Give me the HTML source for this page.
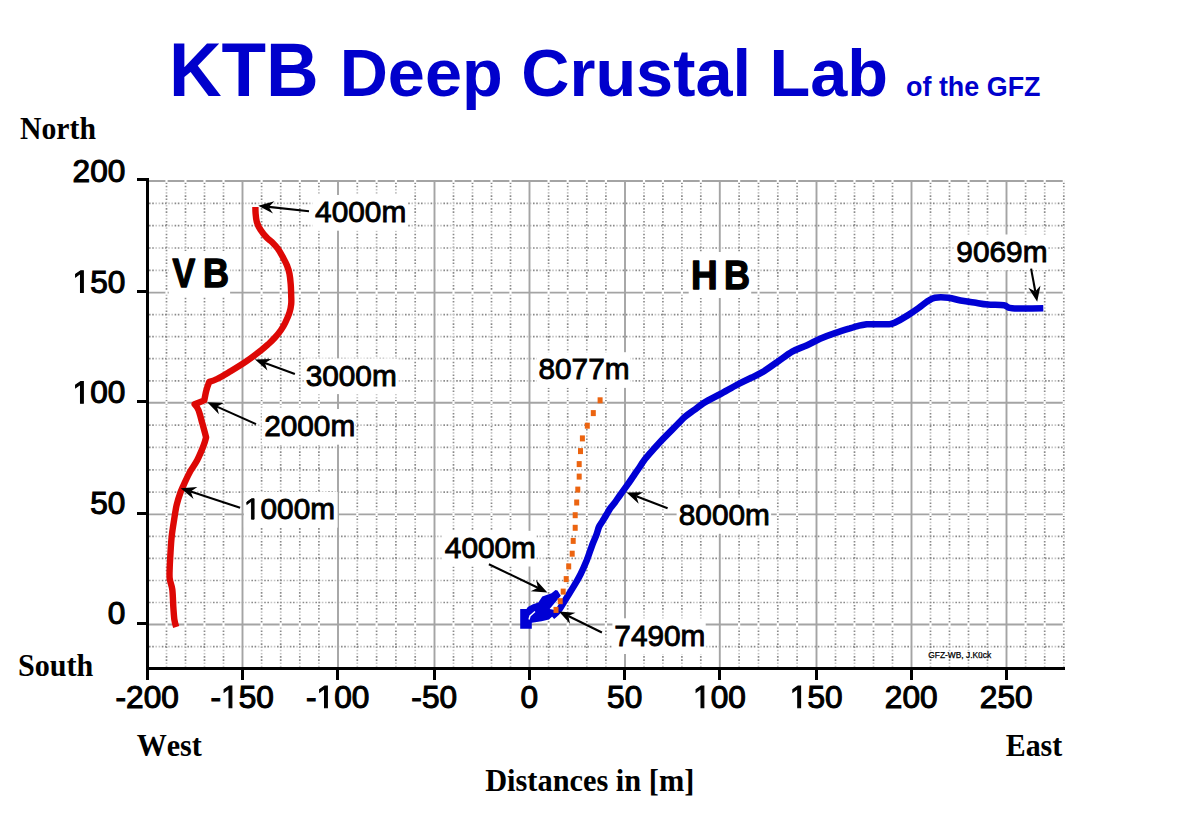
<!DOCTYPE html>
<html><head><meta charset="utf-8"><style>
html,body{margin:0;padding:0;background:#fff;width:1181px;height:834px;overflow:hidden}
svg{display:block}
text{font-kerning:none;font-variant-ligatures:none}
.dk{stroke:#8a8a8a;stroke-width:1.7;stroke-dasharray:1.6 1.6 1.6 8}
.lt{stroke:#c4c4c4;stroke-width:1.7;stroke-dasharray:1.6 1.6 1.6 8;stroke-dashoffset:-6.4}
.mj{stroke:#a4a4a4;stroke-width:1.9}
.lab{font-family:"Liberation Sans",sans-serif;font-size:29.8px;fill:#000;stroke:#000;stroke-width:0.9px}
.ax{font-family:"Liberation Sans",sans-serif;font-size:31.6px;fill:#000;stroke:#000;stroke-width:1.1px}
.ser{font-family:"Liberation Serif",serif;font-weight:bold;fill:#000}
.tt{font-family:"Liberation Sans",sans-serif;font-weight:bold;fill:#0000cc}
.bb{font-family:"Liberation Sans",sans-serif;font-weight:bold;fill:#000;stroke:#000;stroke-width:1.2px;stroke-linejoin:round}
.sm{font-family:"Liberation Sans",sans-serif;font-size:8.4px;fill:#000;stroke:#000;stroke-width:0.25px}
</style></head><body>
<svg width="1181" height="834" viewBox="0 0 1181 834">
<rect width="1181" height="834" fill="#fff"/>
<line x1="166.5" y1="182.5" x2="166.5" y2="667" class="dk"/>
<line x1="166.5" y1="182.5" x2="166.5" y2="667" class="lt"/>
<line x1="185.5" y1="182.5" x2="185.5" y2="667" class="dk"/>
<line x1="185.5" y1="182.5" x2="185.5" y2="667" class="lt"/>
<line x1="204.5" y1="182.5" x2="204.5" y2="667" class="dk"/>
<line x1="204.5" y1="182.5" x2="204.5" y2="667" class="lt"/>
<line x1="223.5" y1="182.5" x2="223.5" y2="667" class="dk"/>
<line x1="223.5" y1="182.5" x2="223.5" y2="667" class="lt"/>
<line x1="261.6" y1="182.5" x2="261.6" y2="667" class="dk"/>
<line x1="261.6" y1="182.5" x2="261.6" y2="667" class="lt"/>
<line x1="280.7" y1="182.5" x2="280.7" y2="667" class="dk"/>
<line x1="280.7" y1="182.5" x2="280.7" y2="667" class="lt"/>
<line x1="299.8" y1="182.5" x2="299.8" y2="667" class="dk"/>
<line x1="299.8" y1="182.5" x2="299.8" y2="667" class="lt"/>
<line x1="318.9" y1="182.5" x2="318.9" y2="667" class="dk"/>
<line x1="318.9" y1="182.5" x2="318.9" y2="667" class="lt"/>
<line x1="357.3" y1="182.5" x2="357.3" y2="667" class="dk"/>
<line x1="357.3" y1="182.5" x2="357.3" y2="667" class="lt"/>
<line x1="376.6" y1="182.5" x2="376.6" y2="667" class="dk"/>
<line x1="376.6" y1="182.5" x2="376.6" y2="667" class="lt"/>
<line x1="395.9" y1="182.5" x2="395.9" y2="667" class="dk"/>
<line x1="395.9" y1="182.5" x2="395.9" y2="667" class="lt"/>
<line x1="415.2" y1="182.5" x2="415.2" y2="667" class="dk"/>
<line x1="415.2" y1="182.5" x2="415.2" y2="667" class="lt"/>
<line x1="453.5" y1="182.5" x2="453.5" y2="667" class="dk"/>
<line x1="453.5" y1="182.5" x2="453.5" y2="667" class="lt"/>
<line x1="472.5" y1="182.5" x2="472.5" y2="667" class="dk"/>
<line x1="472.5" y1="182.5" x2="472.5" y2="667" class="lt"/>
<line x1="491.5" y1="182.5" x2="491.5" y2="667" class="dk"/>
<line x1="491.5" y1="182.5" x2="491.5" y2="667" class="lt"/>
<line x1="510.5" y1="182.5" x2="510.5" y2="667" class="dk"/>
<line x1="510.5" y1="182.5" x2="510.5" y2="667" class="lt"/>
<line x1="548.6" y1="182.5" x2="548.6" y2="667" class="dk"/>
<line x1="548.6" y1="182.5" x2="548.6" y2="667" class="lt"/>
<line x1="567.7" y1="182.5" x2="567.7" y2="667" class="dk"/>
<line x1="567.7" y1="182.5" x2="567.7" y2="667" class="lt"/>
<line x1="586.8" y1="182.5" x2="586.8" y2="667" class="dk"/>
<line x1="586.8" y1="182.5" x2="586.8" y2="667" class="lt"/>
<line x1="605.9" y1="182.5" x2="605.9" y2="667" class="dk"/>
<line x1="605.9" y1="182.5" x2="605.9" y2="667" class="lt"/>
<line x1="644.0" y1="182.5" x2="644.0" y2="667" class="dk"/>
<line x1="644.0" y1="182.5" x2="644.0" y2="667" class="lt"/>
<line x1="662.9" y1="182.5" x2="662.9" y2="667" class="dk"/>
<line x1="662.9" y1="182.5" x2="662.9" y2="667" class="lt"/>
<line x1="681.9" y1="182.5" x2="681.9" y2="667" class="dk"/>
<line x1="681.9" y1="182.5" x2="681.9" y2="667" class="lt"/>
<line x1="700.8" y1="182.5" x2="700.8" y2="667" class="dk"/>
<line x1="700.8" y1="182.5" x2="700.8" y2="667" class="lt"/>
<line x1="739.1" y1="182.5" x2="739.1" y2="667" class="dk"/>
<line x1="739.1" y1="182.5" x2="739.1" y2="667" class="lt"/>
<line x1="758.5" y1="182.5" x2="758.5" y2="667" class="dk"/>
<line x1="758.5" y1="182.5" x2="758.5" y2="667" class="lt"/>
<line x1="777.8" y1="182.5" x2="777.8" y2="667" class="dk"/>
<line x1="777.8" y1="182.5" x2="777.8" y2="667" class="lt"/>
<line x1="797.1" y1="182.5" x2="797.1" y2="667" class="dk"/>
<line x1="797.1" y1="182.5" x2="797.1" y2="667" class="lt"/>
<line x1="835.5" y1="182.5" x2="835.5" y2="667" class="dk"/>
<line x1="835.5" y1="182.5" x2="835.5" y2="667" class="lt"/>
<line x1="854.5" y1="182.5" x2="854.5" y2="667" class="dk"/>
<line x1="854.5" y1="182.5" x2="854.5" y2="667" class="lt"/>
<line x1="873.5" y1="182.5" x2="873.5" y2="667" class="dk"/>
<line x1="873.5" y1="182.5" x2="873.5" y2="667" class="lt"/>
<line x1="892.5" y1="182.5" x2="892.5" y2="667" class="dk"/>
<line x1="892.5" y1="182.5" x2="892.5" y2="667" class="lt"/>
<line x1="930.5" y1="182.5" x2="930.5" y2="667" class="dk"/>
<line x1="930.5" y1="182.5" x2="930.5" y2="667" class="lt"/>
<line x1="949.5" y1="182.5" x2="949.5" y2="667" class="dk"/>
<line x1="949.5" y1="182.5" x2="949.5" y2="667" class="lt"/>
<line x1="968.5" y1="182.5" x2="968.5" y2="667" class="dk"/>
<line x1="968.5" y1="182.5" x2="968.5" y2="667" class="lt"/>
<line x1="987.5" y1="182.5" x2="987.5" y2="667" class="dk"/>
<line x1="987.5" y1="182.5" x2="987.5" y2="667" class="lt"/>
<line x1="1025.6" y1="182.5" x2="1025.6" y2="667" class="dk"/>
<line x1="1025.6" y1="182.5" x2="1025.6" y2="667" class="lt"/>
<line x1="1044.7" y1="182.5" x2="1044.7" y2="667" class="dk"/>
<line x1="1044.7" y1="182.5" x2="1044.7" y2="667" class="lt"/>
<line x1="1063.8" y1="182.5" x2="1063.8" y2="667" class="dk"/>
<line x1="1063.8" y1="182.5" x2="1063.8" y2="667" class="lt"/>
<line x1="149" y1="646.7" x2="1065" y2="646.7" class="dk"/>
<line x1="149" y1="646.7" x2="1065" y2="646.7" class="lt"/>
<line x1="149" y1="602.5" x2="1065" y2="602.5" class="dk"/>
<line x1="149" y1="602.5" x2="1065" y2="602.5" class="lt"/>
<line x1="149" y1="580.5" x2="1065" y2="580.5" class="dk"/>
<line x1="149" y1="580.5" x2="1065" y2="580.5" class="lt"/>
<line x1="149" y1="558.4" x2="1065" y2="558.4" class="dk"/>
<line x1="149" y1="558.4" x2="1065" y2="558.4" class="lt"/>
<line x1="149" y1="536.4" x2="1065" y2="536.4" class="dk"/>
<line x1="149" y1="536.4" x2="1065" y2="536.4" class="lt"/>
<line x1="149" y1="492.1" x2="1065" y2="492.1" class="dk"/>
<line x1="149" y1="492.1" x2="1065" y2="492.1" class="lt"/>
<line x1="149" y1="469.8" x2="1065" y2="469.8" class="dk"/>
<line x1="149" y1="469.8" x2="1065" y2="469.8" class="lt"/>
<line x1="149" y1="447.4" x2="1065" y2="447.4" class="dk"/>
<line x1="149" y1="447.4" x2="1065" y2="447.4" class="lt"/>
<line x1="149" y1="425.1" x2="1065" y2="425.1" class="dk"/>
<line x1="149" y1="425.1" x2="1065" y2="425.1" class="lt"/>
<line x1="149" y1="380.8" x2="1065" y2="380.8" class="dk"/>
<line x1="149" y1="380.8" x2="1065" y2="380.8" class="lt"/>
<line x1="149" y1="358.7" x2="1065" y2="358.7" class="dk"/>
<line x1="149" y1="358.7" x2="1065" y2="358.7" class="lt"/>
<line x1="149" y1="336.7" x2="1065" y2="336.7" class="dk"/>
<line x1="149" y1="336.7" x2="1065" y2="336.7" class="lt"/>
<line x1="149" y1="314.6" x2="1065" y2="314.6" class="dk"/>
<line x1="149" y1="314.6" x2="1065" y2="314.6" class="lt"/>
<line x1="149" y1="270.3" x2="1065" y2="270.3" class="dk"/>
<line x1="149" y1="270.3" x2="1065" y2="270.3" class="lt"/>
<line x1="149" y1="248.0" x2="1065" y2="248.0" class="dk"/>
<line x1="149" y1="248.0" x2="1065" y2="248.0" class="lt"/>
<line x1="149" y1="225.6" x2="1065" y2="225.6" class="dk"/>
<line x1="149" y1="225.6" x2="1065" y2="225.6" class="lt"/>
<line x1="149" y1="203.3" x2="1065" y2="203.3" class="dk"/>
<line x1="149" y1="203.3" x2="1065" y2="203.3" class="lt"/>
<line x1="242.5" y1="180" x2="242.5" y2="667" class="mj"/>
<line x1="338.0" y1="180" x2="338.0" y2="667" class="mj"/>
<line x1="434.5" y1="180" x2="434.5" y2="667" class="mj"/>
<line x1="529.5" y1="180" x2="529.5" y2="667" class="mj"/>
<line x1="625.0" y1="180" x2="625.0" y2="667" class="mj"/>
<line x1="719.8" y1="180" x2="719.8" y2="667" class="mj"/>
<line x1="816.5" y1="180" x2="816.5" y2="667" class="mj"/>
<line x1="911.5" y1="180" x2="911.5" y2="667" class="mj"/>
<line x1="1006.5" y1="180" x2="1006.5" y2="667" class="mj"/>
<line x1="148" y1="624.5" x2="1065" y2="624.5" class="mj"/>
<rect x="165.4" y="622.9" width="2.2" height="3.2" fill="#fff"/>
<rect x="184.4" y="622.9" width="2.2" height="3.2" fill="#fff"/>
<rect x="203.4" y="622.9" width="2.2" height="3.2" fill="#fff"/>
<rect x="222.4" y="622.9" width="2.2" height="3.2" fill="#fff"/>
<rect x="260.5" y="622.9" width="2.2" height="3.2" fill="#fff"/>
<rect x="279.6" y="622.9" width="2.2" height="3.2" fill="#fff"/>
<rect x="298.7" y="622.9" width="2.2" height="3.2" fill="#fff"/>
<rect x="317.8" y="622.9" width="2.2" height="3.2" fill="#fff"/>
<rect x="356.2" y="622.9" width="2.2" height="3.2" fill="#fff"/>
<rect x="375.5" y="622.9" width="2.2" height="3.2" fill="#fff"/>
<rect x="394.8" y="622.9" width="2.2" height="3.2" fill="#fff"/>
<rect x="414.1" y="622.9" width="2.2" height="3.2" fill="#fff"/>
<rect x="452.4" y="622.9" width="2.2" height="3.2" fill="#fff"/>
<rect x="471.4" y="622.9" width="2.2" height="3.2" fill="#fff"/>
<rect x="490.4" y="622.9" width="2.2" height="3.2" fill="#fff"/>
<rect x="509.4" y="622.9" width="2.2" height="3.2" fill="#fff"/>
<rect x="547.5" y="622.9" width="2.2" height="3.2" fill="#fff"/>
<rect x="566.6" y="622.9" width="2.2" height="3.2" fill="#fff"/>
<rect x="585.7" y="622.9" width="2.2" height="3.2" fill="#fff"/>
<rect x="604.8" y="622.9" width="2.2" height="3.2" fill="#fff"/>
<rect x="642.9" y="622.9" width="2.2" height="3.2" fill="#fff"/>
<rect x="661.8" y="622.9" width="2.2" height="3.2" fill="#fff"/>
<rect x="680.8" y="622.9" width="2.2" height="3.2" fill="#fff"/>
<rect x="699.7" y="622.9" width="2.2" height="3.2" fill="#fff"/>
<rect x="738.0" y="622.9" width="2.2" height="3.2" fill="#fff"/>
<rect x="757.4" y="622.9" width="2.2" height="3.2" fill="#fff"/>
<rect x="776.7" y="622.9" width="2.2" height="3.2" fill="#fff"/>
<rect x="796.0" y="622.9" width="2.2" height="3.2" fill="#fff"/>
<rect x="834.4" y="622.9" width="2.2" height="3.2" fill="#fff"/>
<rect x="853.4" y="622.9" width="2.2" height="3.2" fill="#fff"/>
<rect x="872.4" y="622.9" width="2.2" height="3.2" fill="#fff"/>
<rect x="891.4" y="622.9" width="2.2" height="3.2" fill="#fff"/>
<rect x="929.4" y="622.9" width="2.2" height="3.2" fill="#fff"/>
<rect x="948.4" y="622.9" width="2.2" height="3.2" fill="#fff"/>
<rect x="967.4" y="622.9" width="2.2" height="3.2" fill="#fff"/>
<rect x="986.4" y="622.9" width="2.2" height="3.2" fill="#fff"/>
<rect x="1024.5" y="622.9" width="2.2" height="3.2" fill="#fff"/>
<rect x="1043.6" y="622.9" width="2.2" height="3.2" fill="#fff"/>
<rect x="1062.7" y="622.9" width="2.2" height="3.2" fill="#fff"/>
<line x1="148" y1="514.4" x2="1065" y2="514.4" class="mj"/>
<rect x="165.4" y="512.8" width="2.2" height="3.2" fill="#fff"/>
<rect x="184.4" y="512.8" width="2.2" height="3.2" fill="#fff"/>
<rect x="203.4" y="512.8" width="2.2" height="3.2" fill="#fff"/>
<rect x="222.4" y="512.8" width="2.2" height="3.2" fill="#fff"/>
<rect x="260.5" y="512.8" width="2.2" height="3.2" fill="#fff"/>
<rect x="279.6" y="512.8" width="2.2" height="3.2" fill="#fff"/>
<rect x="298.7" y="512.8" width="2.2" height="3.2" fill="#fff"/>
<rect x="317.8" y="512.8" width="2.2" height="3.2" fill="#fff"/>
<rect x="356.2" y="512.8" width="2.2" height="3.2" fill="#fff"/>
<rect x="375.5" y="512.8" width="2.2" height="3.2" fill="#fff"/>
<rect x="394.8" y="512.8" width="2.2" height="3.2" fill="#fff"/>
<rect x="414.1" y="512.8" width="2.2" height="3.2" fill="#fff"/>
<rect x="452.4" y="512.8" width="2.2" height="3.2" fill="#fff"/>
<rect x="471.4" y="512.8" width="2.2" height="3.2" fill="#fff"/>
<rect x="490.4" y="512.8" width="2.2" height="3.2" fill="#fff"/>
<rect x="509.4" y="512.8" width="2.2" height="3.2" fill="#fff"/>
<rect x="547.5" y="512.8" width="2.2" height="3.2" fill="#fff"/>
<rect x="566.6" y="512.8" width="2.2" height="3.2" fill="#fff"/>
<rect x="585.7" y="512.8" width="2.2" height="3.2" fill="#fff"/>
<rect x="604.8" y="512.8" width="2.2" height="3.2" fill="#fff"/>
<rect x="642.9" y="512.8" width="2.2" height="3.2" fill="#fff"/>
<rect x="661.8" y="512.8" width="2.2" height="3.2" fill="#fff"/>
<rect x="680.8" y="512.8" width="2.2" height="3.2" fill="#fff"/>
<rect x="699.7" y="512.8" width="2.2" height="3.2" fill="#fff"/>
<rect x="738.0" y="512.8" width="2.2" height="3.2" fill="#fff"/>
<rect x="757.4" y="512.8" width="2.2" height="3.2" fill="#fff"/>
<rect x="776.7" y="512.8" width="2.2" height="3.2" fill="#fff"/>
<rect x="796.0" y="512.8" width="2.2" height="3.2" fill="#fff"/>
<rect x="834.4" y="512.8" width="2.2" height="3.2" fill="#fff"/>
<rect x="853.4" y="512.8" width="2.2" height="3.2" fill="#fff"/>
<rect x="872.4" y="512.8" width="2.2" height="3.2" fill="#fff"/>
<rect x="891.4" y="512.8" width="2.2" height="3.2" fill="#fff"/>
<rect x="929.4" y="512.8" width="2.2" height="3.2" fill="#fff"/>
<rect x="948.4" y="512.8" width="2.2" height="3.2" fill="#fff"/>
<rect x="967.4" y="512.8" width="2.2" height="3.2" fill="#fff"/>
<rect x="986.4" y="512.8" width="2.2" height="3.2" fill="#fff"/>
<rect x="1024.5" y="512.8" width="2.2" height="3.2" fill="#fff"/>
<rect x="1043.6" y="512.8" width="2.2" height="3.2" fill="#fff"/>
<rect x="1062.7" y="512.8" width="2.2" height="3.2" fill="#fff"/>
<line x1="148" y1="402.8" x2="1065" y2="402.8" class="mj"/>
<rect x="165.4" y="401.2" width="2.2" height="3.2" fill="#fff"/>
<rect x="184.4" y="401.2" width="2.2" height="3.2" fill="#fff"/>
<rect x="203.4" y="401.2" width="2.2" height="3.2" fill="#fff"/>
<rect x="222.4" y="401.2" width="2.2" height="3.2" fill="#fff"/>
<rect x="260.5" y="401.2" width="2.2" height="3.2" fill="#fff"/>
<rect x="279.6" y="401.2" width="2.2" height="3.2" fill="#fff"/>
<rect x="298.7" y="401.2" width="2.2" height="3.2" fill="#fff"/>
<rect x="317.8" y="401.2" width="2.2" height="3.2" fill="#fff"/>
<rect x="356.2" y="401.2" width="2.2" height="3.2" fill="#fff"/>
<rect x="375.5" y="401.2" width="2.2" height="3.2" fill="#fff"/>
<rect x="394.8" y="401.2" width="2.2" height="3.2" fill="#fff"/>
<rect x="414.1" y="401.2" width="2.2" height="3.2" fill="#fff"/>
<rect x="452.4" y="401.2" width="2.2" height="3.2" fill="#fff"/>
<rect x="471.4" y="401.2" width="2.2" height="3.2" fill="#fff"/>
<rect x="490.4" y="401.2" width="2.2" height="3.2" fill="#fff"/>
<rect x="509.4" y="401.2" width="2.2" height="3.2" fill="#fff"/>
<rect x="547.5" y="401.2" width="2.2" height="3.2" fill="#fff"/>
<rect x="566.6" y="401.2" width="2.2" height="3.2" fill="#fff"/>
<rect x="585.7" y="401.2" width="2.2" height="3.2" fill="#fff"/>
<rect x="604.8" y="401.2" width="2.2" height="3.2" fill="#fff"/>
<rect x="642.9" y="401.2" width="2.2" height="3.2" fill="#fff"/>
<rect x="661.8" y="401.2" width="2.2" height="3.2" fill="#fff"/>
<rect x="680.8" y="401.2" width="2.2" height="3.2" fill="#fff"/>
<rect x="699.7" y="401.2" width="2.2" height="3.2" fill="#fff"/>
<rect x="738.0" y="401.2" width="2.2" height="3.2" fill="#fff"/>
<rect x="757.4" y="401.2" width="2.2" height="3.2" fill="#fff"/>
<rect x="776.7" y="401.2" width="2.2" height="3.2" fill="#fff"/>
<rect x="796.0" y="401.2" width="2.2" height="3.2" fill="#fff"/>
<rect x="834.4" y="401.2" width="2.2" height="3.2" fill="#fff"/>
<rect x="853.4" y="401.2" width="2.2" height="3.2" fill="#fff"/>
<rect x="872.4" y="401.2" width="2.2" height="3.2" fill="#fff"/>
<rect x="891.4" y="401.2" width="2.2" height="3.2" fill="#fff"/>
<rect x="929.4" y="401.2" width="2.2" height="3.2" fill="#fff"/>
<rect x="948.4" y="401.2" width="2.2" height="3.2" fill="#fff"/>
<rect x="967.4" y="401.2" width="2.2" height="3.2" fill="#fff"/>
<rect x="986.4" y="401.2" width="2.2" height="3.2" fill="#fff"/>
<rect x="1024.5" y="401.2" width="2.2" height="3.2" fill="#fff"/>
<rect x="1043.6" y="401.2" width="2.2" height="3.2" fill="#fff"/>
<rect x="1062.7" y="401.2" width="2.2" height="3.2" fill="#fff"/>
<line x1="148" y1="292.6" x2="1065" y2="292.6" class="mj"/>
<rect x="165.4" y="291.0" width="2.2" height="3.2" fill="#fff"/>
<rect x="184.4" y="291.0" width="2.2" height="3.2" fill="#fff"/>
<rect x="203.4" y="291.0" width="2.2" height="3.2" fill="#fff"/>
<rect x="222.4" y="291.0" width="2.2" height="3.2" fill="#fff"/>
<rect x="260.5" y="291.0" width="2.2" height="3.2" fill="#fff"/>
<rect x="279.6" y="291.0" width="2.2" height="3.2" fill="#fff"/>
<rect x="298.7" y="291.0" width="2.2" height="3.2" fill="#fff"/>
<rect x="317.8" y="291.0" width="2.2" height="3.2" fill="#fff"/>
<rect x="356.2" y="291.0" width="2.2" height="3.2" fill="#fff"/>
<rect x="375.5" y="291.0" width="2.2" height="3.2" fill="#fff"/>
<rect x="394.8" y="291.0" width="2.2" height="3.2" fill="#fff"/>
<rect x="414.1" y="291.0" width="2.2" height="3.2" fill="#fff"/>
<rect x="452.4" y="291.0" width="2.2" height="3.2" fill="#fff"/>
<rect x="471.4" y="291.0" width="2.2" height="3.2" fill="#fff"/>
<rect x="490.4" y="291.0" width="2.2" height="3.2" fill="#fff"/>
<rect x="509.4" y="291.0" width="2.2" height="3.2" fill="#fff"/>
<rect x="547.5" y="291.0" width="2.2" height="3.2" fill="#fff"/>
<rect x="566.6" y="291.0" width="2.2" height="3.2" fill="#fff"/>
<rect x="585.7" y="291.0" width="2.2" height="3.2" fill="#fff"/>
<rect x="604.8" y="291.0" width="2.2" height="3.2" fill="#fff"/>
<rect x="642.9" y="291.0" width="2.2" height="3.2" fill="#fff"/>
<rect x="661.8" y="291.0" width="2.2" height="3.2" fill="#fff"/>
<rect x="680.8" y="291.0" width="2.2" height="3.2" fill="#fff"/>
<rect x="699.7" y="291.0" width="2.2" height="3.2" fill="#fff"/>
<rect x="738.0" y="291.0" width="2.2" height="3.2" fill="#fff"/>
<rect x="757.4" y="291.0" width="2.2" height="3.2" fill="#fff"/>
<rect x="776.7" y="291.0" width="2.2" height="3.2" fill="#fff"/>
<rect x="796.0" y="291.0" width="2.2" height="3.2" fill="#fff"/>
<rect x="834.4" y="291.0" width="2.2" height="3.2" fill="#fff"/>
<rect x="853.4" y="291.0" width="2.2" height="3.2" fill="#fff"/>
<rect x="872.4" y="291.0" width="2.2" height="3.2" fill="#fff"/>
<rect x="891.4" y="291.0" width="2.2" height="3.2" fill="#fff"/>
<rect x="929.4" y="291.0" width="2.2" height="3.2" fill="#fff"/>
<rect x="948.4" y="291.0" width="2.2" height="3.2" fill="#fff"/>
<rect x="967.4" y="291.0" width="2.2" height="3.2" fill="#fff"/>
<rect x="986.4" y="291.0" width="2.2" height="3.2" fill="#fff"/>
<rect x="1024.5" y="291.0" width="2.2" height="3.2" fill="#fff"/>
<rect x="1043.6" y="291.0" width="2.2" height="3.2" fill="#fff"/>
<rect x="1062.7" y="291.0" width="2.2" height="3.2" fill="#fff"/>
<line x1="148" y1="181.0" x2="1065" y2="181.0" class="mj"/>
<rect x="165.4" y="179.4" width="2.2" height="3.2" fill="#fff"/>
<rect x="184.4" y="179.4" width="2.2" height="3.2" fill="#fff"/>
<rect x="203.4" y="179.4" width="2.2" height="3.2" fill="#fff"/>
<rect x="222.4" y="179.4" width="2.2" height="3.2" fill="#fff"/>
<rect x="260.5" y="179.4" width="2.2" height="3.2" fill="#fff"/>
<rect x="279.6" y="179.4" width="2.2" height="3.2" fill="#fff"/>
<rect x="298.7" y="179.4" width="2.2" height="3.2" fill="#fff"/>
<rect x="317.8" y="179.4" width="2.2" height="3.2" fill="#fff"/>
<rect x="356.2" y="179.4" width="2.2" height="3.2" fill="#fff"/>
<rect x="375.5" y="179.4" width="2.2" height="3.2" fill="#fff"/>
<rect x="394.8" y="179.4" width="2.2" height="3.2" fill="#fff"/>
<rect x="414.1" y="179.4" width="2.2" height="3.2" fill="#fff"/>
<rect x="452.4" y="179.4" width="2.2" height="3.2" fill="#fff"/>
<rect x="471.4" y="179.4" width="2.2" height="3.2" fill="#fff"/>
<rect x="490.4" y="179.4" width="2.2" height="3.2" fill="#fff"/>
<rect x="509.4" y="179.4" width="2.2" height="3.2" fill="#fff"/>
<rect x="547.5" y="179.4" width="2.2" height="3.2" fill="#fff"/>
<rect x="566.6" y="179.4" width="2.2" height="3.2" fill="#fff"/>
<rect x="585.7" y="179.4" width="2.2" height="3.2" fill="#fff"/>
<rect x="604.8" y="179.4" width="2.2" height="3.2" fill="#fff"/>
<rect x="642.9" y="179.4" width="2.2" height="3.2" fill="#fff"/>
<rect x="661.8" y="179.4" width="2.2" height="3.2" fill="#fff"/>
<rect x="680.8" y="179.4" width="2.2" height="3.2" fill="#fff"/>
<rect x="699.7" y="179.4" width="2.2" height="3.2" fill="#fff"/>
<rect x="738.0" y="179.4" width="2.2" height="3.2" fill="#fff"/>
<rect x="757.4" y="179.4" width="2.2" height="3.2" fill="#fff"/>
<rect x="776.7" y="179.4" width="2.2" height="3.2" fill="#fff"/>
<rect x="796.0" y="179.4" width="2.2" height="3.2" fill="#fff"/>
<rect x="834.4" y="179.4" width="2.2" height="3.2" fill="#fff"/>
<rect x="853.4" y="179.4" width="2.2" height="3.2" fill="#fff"/>
<rect x="872.4" y="179.4" width="2.2" height="3.2" fill="#fff"/>
<rect x="891.4" y="179.4" width="2.2" height="3.2" fill="#fff"/>
<rect x="929.4" y="179.4" width="2.2" height="3.2" fill="#fff"/>
<rect x="948.4" y="179.4" width="2.2" height="3.2" fill="#fff"/>
<rect x="967.4" y="179.4" width="2.2" height="3.2" fill="#fff"/>
<rect x="986.4" y="179.4" width="2.2" height="3.2" fill="#fff"/>
<rect x="1024.5" y="179.4" width="2.2" height="3.2" fill="#fff"/>
<rect x="1043.6" y="179.4" width="2.2" height="3.2" fill="#fff"/>
<rect x="1062.7" y="179.4" width="2.2" height="3.2" fill="#fff"/>
<rect x="312.5" y="195.0" width="94.5" height="35.7" fill="#fff"/>
<rect x="303.6" y="358.4" width="94.6" height="35.7" fill="#fff"/>
<rect x="261.7" y="409.0" width="93.6" height="35.7" fill="#fff"/>
<rect x="243.9" y="492.0" width="93.7" height="35.7" fill="#fff"/>
<rect x="536.3" y="352.2" width="94.0" height="35.7" fill="#fff"/>
<rect x="676.6" y="498.1" width="94.5" height="35.7" fill="#fff"/>
<rect x="442.2" y="530.8" width="94.5" height="35.7" fill="#fff"/>
<rect x="612.4" y="618.3" width="93.3" height="35.7" fill="#fff"/>
<rect x="954.3" y="234.5" width="94.0" height="35.7" fill="#fff"/>
<rect x="168.8" y="251.0" width="61.3" height="45.5" fill="#fff"/>
<rect x="688.7" y="252.0" width="62.5" height="46.0" fill="#fff"/>
<line x1="147.5" y1="178" x2="147.5" y2="669.5" stroke="#000" stroke-width="3"/>
<line x1="146" y1="668.4" x2="1065" y2="668.4" stroke="#000" stroke-width="3"/>
<line x1="137" y1="623.5" x2="147" y2="623.5" stroke="#000" stroke-width="3"/>
<line x1="137" y1="513.5" x2="147" y2="513.5" stroke="#000" stroke-width="3"/>
<line x1="137" y1="401.5" x2="147" y2="401.5" stroke="#000" stroke-width="3"/>
<line x1="137" y1="291.5" x2="147" y2="291.5" stroke="#000" stroke-width="3"/>
<line x1="137" y1="179.5" x2="147" y2="179.5" stroke="#000" stroke-width="3"/>
<line x1="147.5" y1="668" x2="147.5" y2="680" stroke="#000" stroke-width="3"/>
<line x1="242.5" y1="668" x2="242.5" y2="680" stroke="#000" stroke-width="3"/>
<line x1="337.5" y1="668" x2="337.5" y2="680" stroke="#000" stroke-width="3"/>
<line x1="434.5" y1="668" x2="434.5" y2="680" stroke="#000" stroke-width="3"/>
<line x1="529.5" y1="668" x2="529.5" y2="680" stroke="#000" stroke-width="3"/>
<line x1="624.5" y1="668" x2="624.5" y2="680" stroke="#000" stroke-width="3"/>
<line x1="719.5" y1="668" x2="719.5" y2="680" stroke="#000" stroke-width="3"/>
<line x1="816.5" y1="668" x2="816.5" y2="680" stroke="#000" stroke-width="3"/>
<line x1="911.5" y1="668" x2="911.5" y2="680" stroke="#000" stroke-width="3"/>
<line x1="1006.5" y1="668" x2="1006.5" y2="680" stroke="#000" stroke-width="3"/>
<path d="M255.4,207.0C255.4,207.0 255.4,211.0 255.6,213.5C255.8,216.0 256.0,219.2 256.8,221.9C257.6,224.6 258.8,227.2 260.5,229.8C262.2,232.5 265.0,235.8 266.9,237.8C268.8,239.8 270.1,240.2 271.9,242.0C273.7,243.8 276.0,246.2 277.8,248.7C279.6,251.2 281.3,254.3 282.8,257.1C284.3,259.9 285.9,262.7 287.0,265.5C288.1,268.3 288.9,270.8 289.5,273.9C290.1,277.0 290.4,280.4 290.7,284.0C291.0,287.6 291.1,292.3 291.2,295.7C291.3,299.1 291.5,301.3 291.2,304.1C290.9,306.9 290.5,309.4 289.5,312.5C288.5,315.6 286.7,319.7 285.3,322.6C283.9,325.5 282.7,327.5 281.0,330.0C279.3,332.5 277.1,335.2 275.0,337.5C272.9,339.8 270.7,342.0 268.5,344.0C266.3,346.0 265.5,346.8 261.8,349.7C258.1,352.6 251.4,357.8 246.2,361.4C241.0,365.0 235.5,368.3 230.6,371.2C225.7,374.1 220.6,377.2 217.0,379.0C213.4,380.8 209.2,381.9 209.2,381.9C209.2,381.9 207.1,387.5 206.3,390.6C205.5,393.7 204.3,400.4 204.3,400.4C204.3,400.4 194.6,404.3 194.6,404.3C194.6,404.3 197.2,406.9 198.5,410.1C199.8,413.3 201.1,419.1 202.4,423.7C203.7,428.2 206.1,437.4 206.1,437.4C206.1,437.4 204.9,442.2 203.4,446.0C201.9,449.8 199.4,455.9 197.3,460.0C195.2,464.1 192.6,467.2 190.6,470.8C188.6,474.4 186.9,478.0 185.2,481.6C183.5,485.2 181.9,488.4 180.5,492.4C179.1,496.3 177.7,500.6 176.6,505.3C175.5,510.0 174.8,515.4 174.0,520.4C173.2,525.4 172.4,530.1 171.8,535.5C171.2,540.9 170.8,547.4 170.5,552.8C170.2,558.2 169.8,563.6 169.7,567.9C169.6,572.2 169.3,575.1 169.7,578.7C170.1,582.3 171.7,584.8 172.3,589.5C172.9,594.2 173.0,601.8 173.3,606.8C173.7,611.8 173.9,616.3 174.4,619.7C174.9,623.1 176.2,627.0 176.2,627.0" fill="none" stroke="#dd0805" stroke-width="6.4" stroke-linejoin="round"/>
<polygon points="520.2,609 520.2,628.8 531.8,628.8 531.8,622.8 541.6,621.2 548.9,619.6 553.5,615.6 556.5,613 556.1,610.3 549.6,609 560.8,595.8 557.5,590.5 555.5,589.9 551.5,593.2 542.3,596.5 538.3,602.4 532.4,604.4 527.8,607 526.5,609" fill="#0000d4"/>
<polyline points="529,619.5 530,616 535,611.5" fill="none" stroke="#fff" stroke-width="1.4"/>
<path d="M552.0,616.5C552.0,616.5 554.8,614.1 556.0,613.0C557.2,611.9 557.2,612.4 559.0,609.9C560.8,607.4 564.0,601.9 566.5,597.9C569.0,593.9 571.6,589.9 574.0,585.9C576.4,581.9 578.6,578.1 580.7,573.9C582.8,569.6 585.0,564.5 586.7,560.4C588.4,556.2 589.7,552.0 590.8,549.0C591.9,546.0 592.2,544.9 593.2,542.5C594.2,540.1 595.5,537.2 596.5,534.6C597.5,532.0 598.1,528.9 599.1,526.7C600.1,524.5 601.2,523.4 602.4,521.4C603.6,519.4 605.1,517.0 606.4,514.8C607.7,512.6 608.9,510.3 610.3,508.2C611.7,506.1 613.5,504.4 615.0,502.3C616.5,500.2 617.5,498.6 619.6,495.7C621.7,492.8 625.1,488.1 627.4,484.9C629.7,481.7 631.4,479.1 633.3,476.3C635.2,473.5 637.2,470.6 639.0,468.0C640.8,465.4 642.0,463.1 644.0,460.5C646.0,457.9 648.6,454.9 651.0,452.1C653.4,449.3 655.8,446.6 658.5,443.7C661.2,440.8 664.3,437.6 667.5,434.4C670.7,431.2 674.6,427.2 677.5,424.3C680.4,421.4 682.2,419.2 685.0,416.8C687.8,414.4 691.0,412.3 694.0,410.1C697.0,407.9 700.5,405.1 703.0,403.4C705.5,401.7 706.1,401.6 709.0,400.0C711.9,398.4 715.7,396.6 720.5,394.0C725.3,391.4 732.7,387.1 737.8,384.4C742.9,381.7 747.1,379.8 751.2,377.8C755.3,375.8 758.0,374.8 762.4,372.2C766.8,369.6 772.3,365.4 777.3,362.0C782.3,358.6 787.2,354.5 792.2,351.7C797.2,348.9 802.5,347.4 807.1,345.2C811.8,343.0 815.5,340.7 820.1,338.7C824.8,336.7 830.0,334.8 835.0,333.1C840.0,331.4 845.9,329.6 849.9,328.4C853.9,327.1 856.4,326.3 859.2,325.6C862.0,324.9 866.7,324.2 866.7,324.2C866.7,324.2 889.0,324.2 889.0,324.2C889.0,324.2 891.5,324.3 894.6,322.8C897.7,321.3 903.7,317.9 907.7,315.4C911.7,312.9 915.6,310.2 918.8,307.9C922.0,305.6 924.1,303.5 926.8,301.8C929.5,300.1 931.3,298.4 934.9,297.7C938.5,297.0 944.2,297.2 948.5,297.7C952.8,298.2 956.3,299.7 960.6,300.5C964.9,301.3 969.7,301.8 974.2,302.5C978.7,303.2 982.7,304.1 987.7,304.5C992.7,304.9 999.9,304.6 1004.0,305.2C1008.1,305.8 1005.6,307.8 1012.1,308.3C1018.6,308.8 1043.3,308.3 1043.3,308.3" fill="none" stroke="#0000d4" stroke-width="6.6" stroke-linejoin="round"/>
<rect x="597.6" y="397.3" width="5" height="6" fill="#ec6410"/>
<rect x="590.8" y="410.1" width="5" height="6" fill="#ec6410"/>
<rect x="584.8" y="422.7" width="5" height="6" fill="#ec6410"/>
<rect x="579.9" y="435.4" width="5" height="6" fill="#ec6410"/>
<rect x="578.0" y="448.1" width="5" height="6" fill="#ec6410"/>
<rect x="576.7" y="461.1" width="5" height="6" fill="#ec6410"/>
<rect x="576.7" y="473.6" width="5" height="6" fill="#ec6410"/>
<rect x="575.3" y="486.6" width="5" height="6" fill="#ec6410"/>
<rect x="574.2" y="499.5" width="5" height="6" fill="#ec6410"/>
<rect x="572.7" y="512.2" width="5" height="6" fill="#ec6410"/>
<rect x="572.7" y="524.8" width="5" height="6" fill="#ec6410"/>
<rect x="570.7" y="537.9" width="5" height="6" fill="#ec6410"/>
<rect x="569.7" y="550.7" width="5" height="6" fill="#ec6410"/>
<rect x="566.2" y="563.4" width="5" height="6" fill="#ec6410"/>
<rect x="563.7" y="576.1" width="5" height="6" fill="#ec6410"/>
<rect x="560.7" y="588.6" width="5" height="6" fill="#ec6410"/>
<rect x="557.7" y="598.2" width="5" height="6" fill="#ec6410"/>
<rect x="553.5" y="606.9" width="5" height="6" fill="#ec6410"/>
<line x1="309.0" y1="211.3" x2="268.7" y2="206.9" stroke="#000" stroke-width="2.1"/><polygon points="258.3,205.8 274.4,201.3 268.7,206.9 273.0,213.6" fill="#000"/>
<line x1="294.9" y1="374.1" x2="264.9" y2="363.1" stroke="#000" stroke-width="2.1"/><polygon points="255.0,359.5 271.7,359.0 264.9,363.1 267.4,370.6" fill="#000"/>
<line x1="256.0" y1="424.1" x2="216.9" y2="406.6" stroke="#000" stroke-width="2.1"/><polygon points="207.3,402.3 224.0,403.0 216.9,406.6 218.9,414.3" fill="#000"/>
<line x1="240.1" y1="507.7" x2="190.7" y2="491.5" stroke="#000" stroke-width="2.1"/><polygon points="180.7,488.2 197.4,487.1 190.7,491.5 193.5,498.9" fill="#000"/>
<line x1="667.6" y1="508.3" x2="636.3" y2="496.3" stroke="#000" stroke-width="2.1"/><polygon points="626.5,492.5 643.2,492.3 636.3,496.3 638.7,503.8" fill="#000"/>
<line x1="488.9" y1="564.2" x2="537.9" y2="587.8" stroke="#000" stroke-width="2.1"/><polygon points="547.4,592.4 530.7,591.3 537.9,587.8 536.1,580.1" fill="#000"/>
<line x1="601.9" y1="632.5" x2="568.3" y2="616.0" stroke="#000" stroke-width="2.1"/><polygon points="558.9,611.4 575.5,612.7 568.3,616.0 570.1,623.8" fill="#000"/>
<line x1="1031.1" y1="268.6" x2="1035.3" y2="291.5" stroke="#000" stroke-width="2.1"/><polygon points="1037.2,301.8 1028.3,287.7 1035.3,291.5 1040.5,285.4" fill="#000"/>
<text transform="translate(315.12,222.20) scale(1,1.0)" class="lab">4000m</text>
<text transform="translate(305.65,385.60) scale(1,1.0)" class="lab">3000m</text>
<text transform="translate(264.13,436.20) scale(1,1.0)" class="lab">2000m</text>
<text transform="translate(243.96,519.20) scale(1,1.0)" class="lab"> 000m</text><path transform="translate(243.96,519.20) scale(0.01455,-0.01455)" d="M515 0V1237L197 1010V1180L530 1409H696V0Z" fill="#000" stroke="#000" stroke-width="61.9" stroke-linejoin="miter"/>
<text transform="translate(538.44,379.40) scale(1,1.0)" class="lab">8077m</text>
<text transform="translate(678.74,525.30) scale(1,1.0)" class="lab">8000m</text>
<text transform="translate(444.82,558.00) scale(1,1.0)" class="lab">4000m</text>
<text transform="translate(614.33,645.50) scale(1,1.0)" class="lab">7490m</text>
<text transform="translate(956.35,261.70) scale(1,1.0)" class="lab">9069m</text>
<text transform="translate(172.60,287.00) scale(1,1.18)" class="bb" font-size="34">V</text><text transform="translate(202.90,287.00) scale(1,1.113)" class="bb" font-size="36">B</text>
<text transform="translate(691.00,289.00) scale(1,1.08)" class="bb" font-size="37">H</text><text transform="translate(723.90,289.00) scale(1,1.113)" class="bb" font-size="36">B</text>
<text transform="translate(125.30,181.50) scale(1,1.0)" class="ax" text-anchor="end">200</text>
<text transform="translate(125.30,292.50) scale(1,1.0)" class="ax" text-anchor="end"> 50</text><path transform="translate(72.58,292.50) scale(0.01543,-0.01543)" d="M515 0V1237L197 1010V1180L530 1409H696V0Z" fill="#000" stroke="#000" stroke-width="71.3" stroke-linejoin="miter"/>
<text transform="translate(125.30,403.30) scale(1,1.0)" class="ax" text-anchor="end"> 00</text><path transform="translate(72.58,403.30) scale(0.01543,-0.01543)" d="M515 0V1237L197 1010V1180L530 1409H696V0Z" fill="#000" stroke="#000" stroke-width="71.3" stroke-linejoin="miter"/>
<text transform="translate(125.30,514.30) scale(1,1.0)" class="ax" text-anchor="end">50</text>
<text transform="translate(125.30,624.30) scale(1,1.0)" class="ax" text-anchor="end">0</text>
<text transform="translate(147.20,707.70) scale(1,1.0)" class="ax" text-anchor="middle">-200</text>
<text transform="translate(242.20,707.70) scale(1,1.0)" class="ax" text-anchor="middle">- 50</text><path transform="translate(221.10,707.70) scale(0.01543,-0.01543)" d="M515 0V1237L197 1010V1180L530 1409H696V0Z" fill="#000" stroke="#000" stroke-width="71.3" stroke-linejoin="miter"/>
<text transform="translate(337.70,707.70) scale(1,1.0)" class="ax" text-anchor="middle">- 00</text><path transform="translate(316.60,707.70) scale(0.01543,-0.01543)" d="M515 0V1237L197 1010V1180L530 1409H696V0Z" fill="#000" stroke="#000" stroke-width="71.3" stroke-linejoin="miter"/>
<text transform="translate(434.20,707.70) scale(1,1.0)" class="ax" text-anchor="middle">-50</text>
<text transform="translate(529.20,707.70) scale(1,1.0)" class="ax" text-anchor="middle">0</text>
<text transform="translate(624.70,707.70) scale(1,1.0)" class="ax" text-anchor="middle">50</text>
<text transform="translate(719.45,707.70) scale(1,1.0)" class="ax" text-anchor="middle"> 00</text><path transform="translate(693.09,707.70) scale(0.01543,-0.01543)" d="M515 0V1237L197 1010V1180L530 1409H696V0Z" fill="#000" stroke="#000" stroke-width="71.3" stroke-linejoin="miter"/>
<text transform="translate(816.20,707.70) scale(1,1.0)" class="ax" text-anchor="middle"> 50</text><path transform="translate(789.84,707.70) scale(0.01543,-0.01543)" d="M515 0V1237L197 1010V1180L530 1409H696V0Z" fill="#000" stroke="#000" stroke-width="71.3" stroke-linejoin="miter"/>
<text transform="translate(911.20,707.70) scale(1,1.0)" class="ax" text-anchor="middle">200</text>
<text transform="translate(1006.20,707.70) scale(1,1.0)" class="ax" text-anchor="middle">250</text>
<text transform="translate(20.03,138.80) scale(1,1.07)" class="ser" font-size="29.7">North</text>
<text transform="translate(17.90,675.60) scale(1,1.07)" class="ser" font-size="30.1">South</text>
<text transform="translate(136.67,755.60) scale(1,1.07)" class="ser" font-size="30.1">West</text>
<text transform="translate(1005.69,755.60) scale(1,1.07)" class="ser" font-size="29.9">East</text>
<text transform="translate(485.17,791.00) scale(1,1.07)" class="ser" font-size="30.37">Distances in [m]</text>
<text transform="translate(168.90,96.00) scale(1,1.04)" class="tt" font-size="72.9">KTB</text>
<text transform="translate(339.70,96.00) scale(1,1.01)" class="tt" font-size="66.7">Deep Crustal Lab</text>
<text transform="translate(906.05,96.00) scale(1,1.0)" class="tt" font-size="26.9">of the GFZ</text>
<text transform="translate(928.30,658.00) scale(1,1.0)" class="sm">GFZ-WB, J.Kück</text>
</svg>
</body></html>
